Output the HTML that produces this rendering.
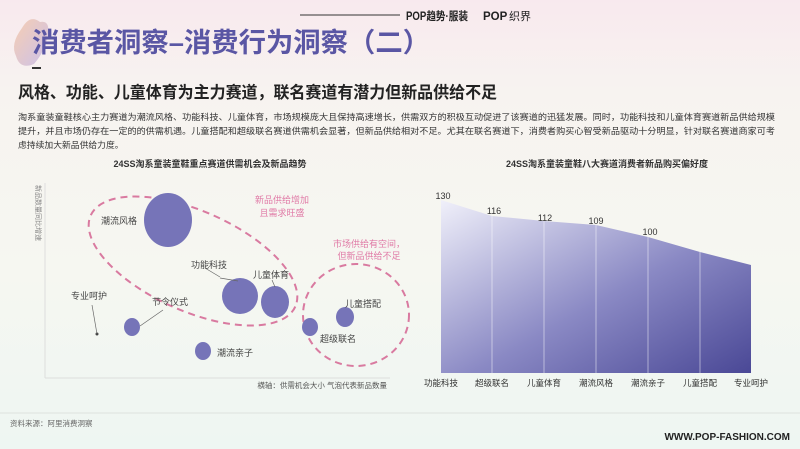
<!DOCTYPE html>
<html><head><meta charset="utf-8"><style>
body{margin:0;width:800px;height:449px;overflow:hidden;font-family:"Liberation Sans","Noto Sans CJK SC",sans-serif;}
.bg{position:absolute;inset:0;background:linear-gradient(180deg,#f8e9ee 0%,#f7f3f0 20%,#f6f7f1 60%,#eef6f2 100%);}
</style></head><body>
<div class="bg"></div>
<svg width="800" height="449" style="position:absolute;left:0;top:0" font-family="Liberation Sans, Noto Sans CJK SC, sans-serif">
<defs>
<linearGradient id="blob" x1="0" y1="0" x2="1" y2="1"><stop offset="0" stop-color="#f6c9a8"/><stop offset="1" stop-color="#c4b8e8"/></linearGradient>
<linearGradient id="area" x1="0" y1="0" x2="1" y2="1"><stop offset="0" stop-color="#f0f0fa"/><stop offset="0.55" stop-color="#8a89c4"/><stop offset="1" stop-color="#4a4896"/></linearGradient>
</defs>
<path d="M22 28 Q30 14 40 22 Q50 20 48 34 Q46 50 34 64 Q20 70 16 56 Q10 44 22 28Z" fill="url(#blob)" opacity="0.85"/>
<line x1="300" y1="15" x2="400" y2="15" stroke="#333" stroke-width="1"/>
<text x="406" y="20" font-size="11.5" font-weight="bold" fill="#222" textLength="62" lengthAdjust="spacingAndGlyphs">POP趋势·服装</text>
<text x="483" y="20" font-size="11.5" font-weight="bold" fill="#222">POP</text>
<text x="509" y="20" font-size="11" fill="#222">织界</text>
<text x="32" y="52" font-size="27" font-weight="bold" fill="#5a56a4" textLength="398" lengthAdjust="spacingAndGlyphs">消费者洞察–消费行为洞察（二）</text>
<rect x="32" y="67" width="9" height="2" fill="#333"/>
<text x="18" y="98" font-size="16.5" font-weight="bold" fill="#222" textLength="479" lengthAdjust="spacingAndGlyphs">风格、功能、儿童体育为主力赛道，联名赛道有潜力但新品供给不足</text>
<text font-size="8.8" fill="#333"><tspan x="18" y="120" textLength="757" lengthAdjust="spacingAndGlyphs">淘系童装童鞋核心主力赛道为潮流风格、功能科技、儿童体育，市场规模庞大且保持高速增长，供需双方的积极互动促进了该赛道的迅猛发展。同时，功能科技和儿童体育赛道新品供给规模</tspan><tspan x="18" y="134" textLength="757" lengthAdjust="spacingAndGlyphs">提升，并且市场仍存在一定的的供需机遇。儿童搭配和超级联名赛道供需机会显著，但新品供给相对不足。尤其在联名赛道下，消费者购买心智受新品驱动十分明显，针对联名赛道商家可考</tspan><tspan x="18" y="148">虑持续加大新品供给力度。</tspan></text>
<!-- bubble chart -->
<text x="210" y="167" font-size="9" font-weight="bold" fill="#333" text-anchor="middle">24SS淘系童装童鞋重点赛道供需机会及新品趋势</text>
<line x1="45" y1="183" x2="45" y2="378" stroke="#ddd"/>
<line x1="45" y1="378" x2="390" y2="378" stroke="#ddd"/>
<text transform="translate(36,185) rotate(90)" font-size="7" fill="#888">新品数量同比增速</text>
<ellipse cx="193" cy="261" rx="112" ry="50" transform="rotate(24 193 261)" fill="none" stroke="#d97aa0" stroke-width="2" stroke-dasharray="7 5"/>
<ellipse cx="356" cy="315" rx="53" ry="51" fill="none" stroke="#d97aa0" stroke-width="2" stroke-dasharray="7 5"/>
<ellipse cx="168" cy="220" rx="24" ry="27" fill="#7674b8"/>
<circle cx="240" cy="296" r="18" fill="#7674b8"/>
<ellipse cx="275" cy="302" rx="14" ry="16" fill="#7674b8"/>
<ellipse cx="132" cy="327" rx="8" ry="9" fill="#7674b8"/>
<ellipse cx="203" cy="351" rx="8" ry="9" fill="#7674b8"/>
<ellipse cx="310" cy="327" rx="8" ry="9" fill="#7674b8"/>
<ellipse cx="345" cy="317" rx="9" ry="10" fill="#7674b8"/>
<circle cx="97" cy="334" r="1.5" fill="#444"/>
<line x1="97" y1="334" x2="92" y2="305" stroke="#666" stroke-width="0.7"/>
<line x1="140" y1="326" x2="163" y2="310" stroke="#666" stroke-width="0.7"/>
<line x1="220" y1="278" x2="238" y2="281" stroke="#666" stroke-width="0.7"/>
<line x1="220" y1="277" x2="205" y2="268" stroke="#666" stroke-width="0.7"/>
<line x1="275" y1="287" x2="272" y2="280" stroke="#666" stroke-width="0.7"/>
<g font-size="9" fill="#444">
<text x="101" y="224">潮流风格</text>
<text x="191" y="268">功能科技</text>
<text x="253" y="278">儿童体育</text>
<text x="71" y="299">专业呵护</text>
<text x="152" y="305">节令仪式</text>
<text x="217" y="356">潮流亲子</text>
<text x="345" y="307">儿童搭配</text>
<text x="320" y="342">超级联名</text>
</g>
<g font-size="9" fill="#e07aa6" text-anchor="middle">
<text x="282" y="203">新品供给增加</text><text x="282" y="216">且需求旺盛</text>
<text x="369" y="247">市场供给有空间，</text><text x="369" y="259">但新品供给不足</text>
</g>
<text x="387" y="388" font-size="7.5" fill="#555" text-anchor="end">横轴：供需机会大小 气泡代表新品数量</text>
<!-- area chart -->
<text x="607" y="167" font-size="9" font-weight="bold" fill="#333" text-anchor="middle">24SS淘系童装童鞋八大赛道消费者新品购买偏好度</text>
<path d="M441 200 L492 216 L544 221 L596 225 L648 237 L700 252 L751 265 L751 373 L441 373Z" fill="url(#area)"/>
<g stroke="#fff" stroke-opacity="0.6" stroke-width="0.8">
<line x1="492" y1="216" x2="492" y2="373"/><line x1="544" y1="221" x2="544" y2="373"/><line x1="596" y1="225" x2="596" y2="373"/><line x1="648" y1="237" x2="648" y2="373"/><line x1="700" y1="252" x2="700" y2="373"/>
</g>
<g font-size="9" fill="#333" text-anchor="middle">
<text x="443" y="199">130</text><text x="494" y="214">116</text><text x="545" y="221">112</text><text x="596" y="224">109</text><text x="650" y="235">100</text>
</g>
<g font-size="8.5" fill="#333" text-anchor="middle">
<text x="441" y="386">功能科技</text><text x="492" y="386">超级联名</text><text x="544" y="386">儿童体育</text><text x="596" y="386">潮流风格</text><text x="648" y="386">潮流亲子</text><text x="700" y="386">儿童搭配</text><text x="751" y="386">专业呵护</text>
</g>
<line x1="0" y1="413" x2="800" y2="413" stroke="#ccc" stroke-width="0.5"/>
<text x="10" y="426" font-size="7.5" fill="#666">资料来源：阿里消费洞察</text>
<text x="790" y="440" font-size="10" font-weight="bold" fill="#222" text-anchor="end">WWW.POP-FASHION.COM</text>
</svg>
</body></html>
